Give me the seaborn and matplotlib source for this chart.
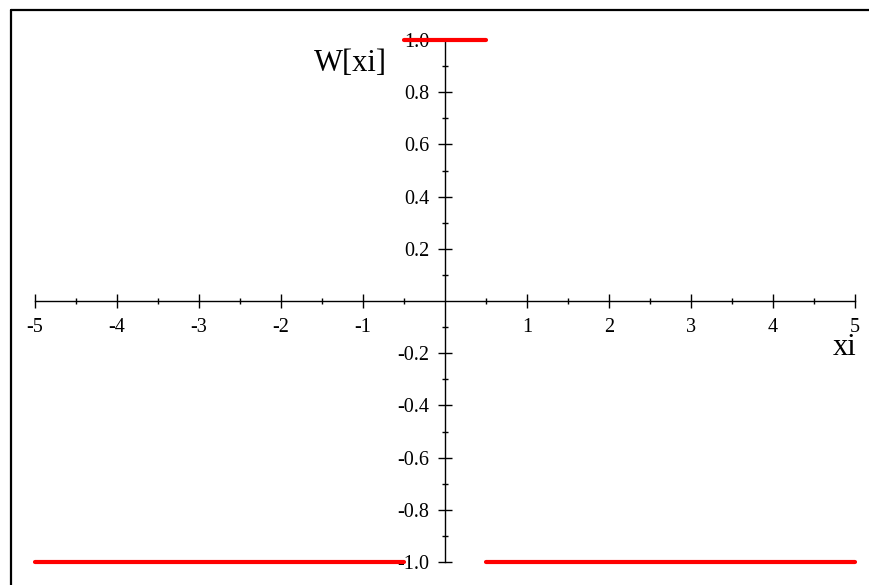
import numpy as np
import pandas as pd
import matplotlib
matplotlib.use("Agg")
import matplotlib.pyplot as plt
from matplotlib.lines import Line2D
from matplotlib.ticker import FixedLocator
import seaborn as sns

# Piecewise-constant W[xi]: -1 outside |xi| < 1/2, +1 inside
seg_start = [-5.0, -0.5, 0.5]
seg_end = [-0.5, 0.5, 5.0]
seg_value = [-1.0, 1.0, -1.0]

x_ticks = [-5, -4, -3, -2, -1, 1, 2, 3, 4, 5]
y_ticks = [-1.0, -0.8, -0.6, -0.4, -0.2, 0.2, 0.4, 0.6, 0.8, 1.0]
y_tick_labels = ["-1.0", "-0.8", "-0.6", "-0.4", "-0.2", "0.2", "0.4", "0.6", "0.8", "1.0"]

rows = []
for i, (a, b, v) in enumerate(zip(seg_start, seg_end, seg_value)):
    rows.append({"xi": a, "W": v, "seg": i})
    rows.append({"xi": b, "W": v, "seg": i})
df = pd.DataFrame(rows)

sns.set_style("white")
plt.rcParams["font.family"] = ["Liberation Serif", "DejaVu Serif"]

W, H = 869, 585
fig = plt.figure(figsize=(W / 100, H / 100), dpi=100)
ax = fig.add_axes([35 / W, 1 - 562 / H, 820 / W, 522 / H])
ax.set_facecolor("none")

sns.lineplot(data=df, x="xi", y="W", units="seg", estimator=None,
             color="#ff0000", linewidth=3.0, ax=ax, clip_on=False, zorder=5)

ax.set_xlim(-5, 5)
ax.set_ylim(-1, 1)
ax.set_xlabel("")
ax.set_ylabel("")

for side in ("top", "right"):
    ax.spines[side].set_visible(False)
ax.spines["left"].set_position("zero")
ax.spines["bottom"].set_position("zero")
for side in ("left", "bottom"):
    ax.spines[side].set_color("black")
    ax.spines[side].set_linewidth(1.0)

ax.xaxis.set_major_locator(FixedLocator(x_ticks))
ax.xaxis.set_minor_locator(FixedLocator(np.arange(-4.5, 5, 1.0)))
ax.set_xticklabels([str(t) for t in x_ticks])
ax.yaxis.set_major_locator(FixedLocator(y_ticks))
ax.yaxis.set_minor_locator(FixedLocator([-0.9, -0.7, -0.5, -0.3, -0.1, 0.1, 0.3, 0.5, 0.7, 0.9]))
ax.set_yticklabels(y_tick_labels)

ax.tick_params(which="both", bottom=True, left=True, top=False, right=False)
ax.tick_params(which="major", direction="inout", length=10.5, width=1.0,
               color="black", labelsize=14.5, labelcolor="black")
ax.tick_params(which="minor", direction="inout", length=5, width=1.0, color="black")
ax.tick_params(axis="x", which="major", pad=7)
ax.tick_params(axis="y", which="major", pad=6)

ax.text(-1.16, 0.91, "W[xi]", fontsize=22, ha="center", va="center", color="black")
ax.text(4.87, -0.18, "xi", fontsize=22, ha="center", va="center", color="black")

# outer frame: top and left edges
fig.add_artist(Line2D([10.5 / W, 1.0], [1 - 9.5 / H, 1 - 9.5 / H],
                      transform=fig.transFigure, color="black", linewidth=1.6))
fig.add_artist(Line2D([10.5 / W, 10.5 / W], [0.0, 1 - 9.5 / H],
                      transform=fig.transFigure, color="black", linewidth=1.6))

fig.savefig("out.png", dpi=100, facecolor="white")
